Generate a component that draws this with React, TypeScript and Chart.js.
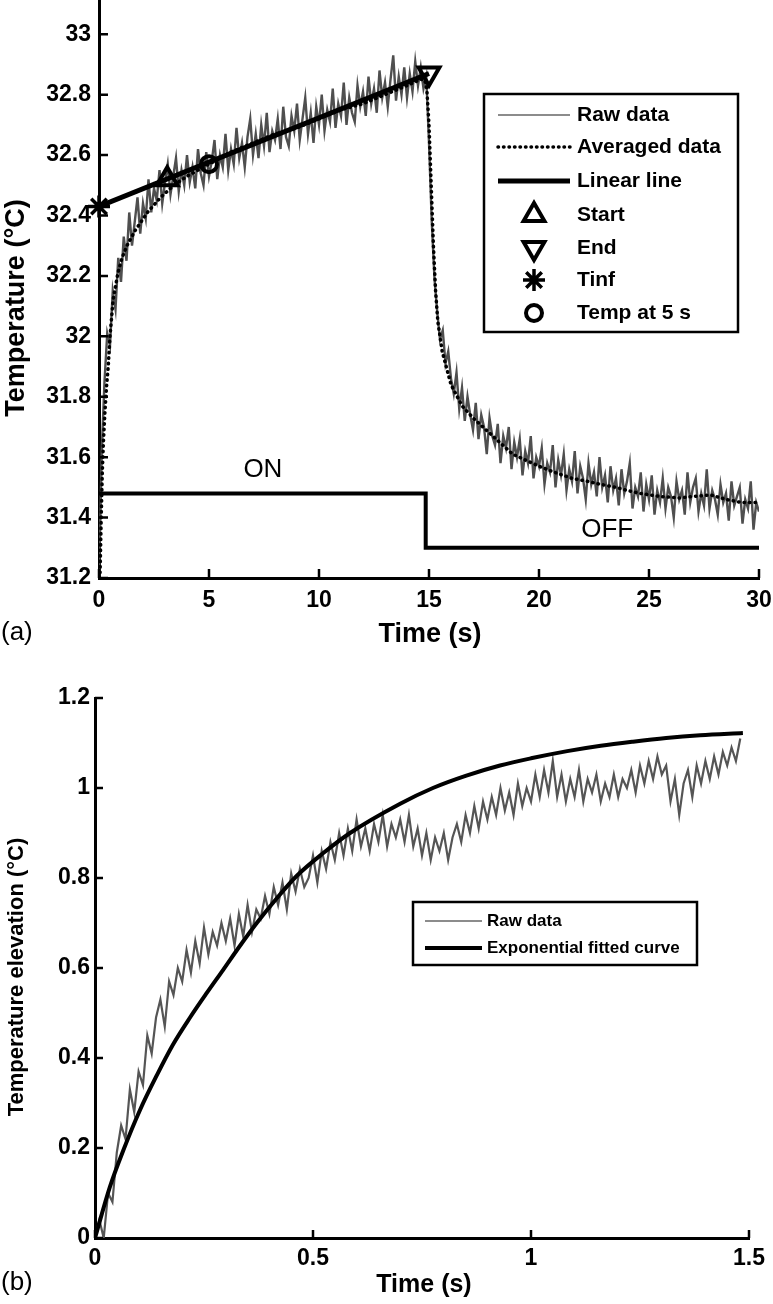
import React, { useEffect, useRef } from 'react';
import { Chart, registerables } from 'chart.js';

Chart.register(...registerables);

const FONT = '"Liberation Sans", Arial, Helvetica, sans-serif';
const W = 773;

// ---------------- Panel (a) data ----------------
const A_X_TICKS = [0, 5, 10, 15, 20, 25, 30];
const A_Y_TICKS = [31.2, 31.4, 31.6, 31.8, 32, 32.2, 32.4, 32.6, 32.8, 33];
const A_X_RANGE = [0, 30];
const A_Y_RANGE = [31.2, 33.11];
const A_RAW_STEP = 0.125; // seconds between raw samples
const A_RAW = [
  31.2, 31.62, 31.85, 32.01, 31.97, 32.15, 32.09, 32.26, 32.18, 32.33, 32.25, 32.41, 32.3,
  32.38, 32.46, 32.34, 32.44, 32.39, 32.52, 32.41, 32.49, 32.45, 32.55, 32.44, 32.51,
  32.57, 32.47, 32.53, 32.59, 32.48, 32.55, 32.5, 32.6,
  32.51, 32.56, 32.49, 32.62, 32.54, 32.5, 32.61, 32.53,
  32.58, 32.65, 32.52, 32.6, 32.56, 32.67, 32.55, 32.62,
  32.57, 32.69, 32.59, 32.64, 32.56, 32.66, 32.72, 32.6,
  32.67, 32.59, 32.7, 32.63, 32.74, 32.61, 32.68, 32.65,
  32.72, 32.62, 32.76, 32.66, 32.63, 32.73, 32.68, 32.77,
  32.65, 32.72, 32.79, 32.67, 32.74, 32.64, 32.76, 32.7,
  32.8, 32.68, 32.75, 32.71, 32.82, 32.69, 32.77, 32.73,
  32.84, 32.7, 32.79, 32.74, 32.71, 32.83, 32.76, 32.81,
  32.73, 32.86, 32.77, 32.82, 32.74, 32.88, 32.79, 32.84,
  32.76, 32.85, 32.93, 32.78, 32.86, 32.8, 32.89, 32.79,
  32.87, 32.81, 32.91, 32.83, 32.89, 32.82, 32.86, 32.64,
  32.38, 32.19, 32.08, 31.99, 32.02, 31.91, 31.95, 31.86,
  31.81, 31.88, 31.76, 31.83, 31.72, 31.8, 31.74, 31.69,
  31.78, 31.66, 31.74, 31.7, 31.61, 31.73, 31.67, 31.64,
  31.71, 31.58, 31.67, 31.63, 31.7, 31.56, 31.65, 31.6,
  31.66, 31.54, 31.62, 31.58, 31.67, 31.53, 31.6, 31.57,
  31.63, 31.51, 31.58, 31.55, 31.64, 31.5, 31.59, 31.54,
  31.61, 31.49, 31.56, 31.52, 31.62, 31.48, 31.57, 31.53,
  31.46, 31.58, 31.51, 31.55, 31.47, 31.6, 31.5, 31.54,
  31.45, 31.57, 31.49, 31.53, 31.44, 31.56, 31.48, 31.52,
  31.58, 31.43, 31.5, 31.47, 31.55, 31.42, 31.51, 31.46,
  31.54, 31.41, 31.49, 31.45, 31.53, 31.43, 31.5, 31.47,
  31.4, 31.52, 31.46, 31.49, 31.41, 31.55, 31.45, 31.5,
  31.53, 31.42, 31.48, 31.44, 31.56, 31.43, 31.49, 31.46,
  31.41, 31.51, 31.45, 31.48, 31.39, 31.52, 31.44, 31.47,
  31.5, 31.38, 31.46, 31.43, 31.52, 31.36, 31.45, 31.42,
];
const A_AVG_T = [
  0, 0.05, 0.1, 0.15, 0.2, 0.27, 0.35, 0.42, 0.5, 0.64, 0.86, 1.05, 1.27, 1.64, 2.2, 2.8, 3.4,
  4, 5, 6, 7, 8, 9, 10, 11, 12, 13, 14, 14.6, 14.8, 14.9, 15.0, 15.1, 15.2, 15.3, 15.4, 15.6,
  16.0, 16.5, 17.0, 17.6, 18.2, 18.8, 19.4, 20, 20.7, 21.5, 22.2, 22.8, 23.5, 24, 24.6, 25.5,
  26.4, 27, 27.8, 28.5, 29.2, 30,
];
const A_AVG_V = [
  31.2, 31.22, 31.4, 31.55, 31.65, 31.75, 31.84, 31.9, 32.0, 32.12, 32.21, 32.26, 32.3, 32.35,
  32.41, 32.46, 32.5, 32.53, 32.57, 32.61, 32.64, 32.67, 32.69, 32.72, 32.75, 32.77, 32.8,
  32.83, 32.85, 32.85, 32.82, 32.7, 32.5, 32.3, 32.15, 32.05, 31.95, 31.84, 31.77, 31.73,
  31.69, 31.65, 31.61, 31.59, 31.57, 31.55, 31.53, 31.52, 31.51, 31.5, 31.49, 31.48, 31.47,
  31.465, 31.47, 31.475, 31.46, 31.45, 31.45,
];
const A_LINEAR_T = [0, 15];
const A_LINEAR_V = [32.43, 32.87];
const A_STIM_T = [0, 14.85, 14.85, 30];
const A_STIM_V = [31.48, 31.48, 31.3, 31.3];
const A_STIM_TEXT = ['ON', 'OFF'];
const A_STIM_TEXT_T = [7.45, 23.1];
const A_STIM_TEXT_V = [31.558, 31.36];
const A_SERIES_LABELS = ['Raw data', 'Averaged data', 'Linear line'];
const A_MARK_LABELS = ['Start', 'End', 'Tinf', 'Temp at 5 s'];
const A_MARK_T = [3.1, 15, 0, 5];
const A_MARK_V = [32.52, 32.87, 32.43, 32.57];

// ---------------- Panel (b) data ----------------
const B_X_TICKS = [0, 0.5, 1, 1.5];
const B_Y_TICKS = [0, 0.2, 0.4, 0.6, 0.8, 1, 1.2];
const B_X_RANGE = [0, 1.5];
const B_Y_RANGE = [0, 1.2];
const B_RAW_STEP = 0.01;
const B_RAW = [
  0.0, 0.04, 0.0, 0.1, 0.08, 0.19, 0.25, 0.22, 0.33, 0.28,
  0.37, 0.34, 0.45, 0.41, 0.49, 0.53, 0.47, 0.57, 0.54, 0.6,
  0.57, 0.64, 0.59, 0.66, 0.61, 0.69, 0.63, 0.68, 0.65, 0.7,
  0.66, 0.71, 0.65, 0.72, 0.67, 0.74, 0.68, 0.73, 0.71, 0.76,
  0.72, 0.78, 0.74, 0.79, 0.73, 0.81, 0.77, 0.82, 0.78, 0.8,
  0.85, 0.79, 0.86, 0.82, 0.88, 0.84, 0.9, 0.85, 0.91, 0.86,
  0.93, 0.87, 0.91, 0.86, 0.92, 0.88, 0.94, 0.87, 0.92, 0.89,
  0.93, 0.88, 0.94, 0.87, 0.91, 0.85, 0.9, 0.84, 0.89, 0.86,
  0.9, 0.84, 0.89, 0.92, 0.88, 0.94, 0.9, 0.96, 0.91, 0.97,
  0.93, 0.98, 0.94, 1.0, 0.95, 0.99, 0.94, 1.01, 0.96, 1.0,
  0.97, 1.03, 0.98, 1.04, 0.99, 1.06, 0.98, 1.03, 0.97, 1.02,
  0.98, 1.04, 0.97, 1.02, 0.99, 1.03, 0.97, 1.01, 0.98, 1.03,
  0.98, 1.02, 1.0, 1.04, 0.99, 1.05, 1.01, 1.06, 1.02, 1.07,
  1.03, 1.05, 0.97, 1.02, 0.94, 1.01, 1.04, 0.98, 1.05, 1.01,
  1.06, 1.02, 1.07, 1.03, 1.08, 1.05, 1.09, 1.06, 1.11,
];
const B_FIT_T = [
  0, 0.034, 0.065, 0.103, 0.142, 0.179, 0.218, 0.256, 0.294, 0.333, 0.371, 0.417, 0.463, 0.523,
  0.585, 0.7, 0.775, 0.85, 0.929, 1.0, 1.083, 1.16, 1.234, 1.31, 1.388, 1.486,
];
const B_FIT_V = [
  0, 0.113, 0.195, 0.284, 0.362, 0.43, 0.49, 0.544, 0.596, 0.65, 0.7, 0.755, 0.805, 0.855, 0.9,
  0.965, 1.0, 1.027, 1.05, 1.066, 1.082, 1.094, 1.103, 1.111, 1.117, 1.122,
];
const B_SERIES_LABELS = ['Raw data', 'Exponential fitted curve'];

// ---------------- helpers ----------------
const pts = (t: number[], v: number[]) => v.map((y, i) => ({ x: t[i], y }));
const grid = (vals: number[], step: number) => vals.map((y, i) => ({ x: i * step, y }));
const fmt = (v: any) => String(+Number(v).toFixed(2));

function drawMarker(ctx: CanvasRenderingContext2D, kind: string, x: number, y: number, r: number, bw: number) {
  ctx.save();
  ctx.strokeStyle = '#000';
  ctx.lineWidth = bw;
  ctx.beginPath();
  if (kind === 'up' || kind === 'down') {
    const s = kind === 'up' ? 1 : -1;
    for (let k = 0; k < 3; k++) {
      const a = (k * 2 * Math.PI) / 3;
      const px = x + Math.sin(a) * r;
      const py = y - s * Math.cos(a) * r;
      if (k === 0) ctx.moveTo(px, py);
      else ctx.lineTo(px, py);
    }
    ctx.closePath();
  } else if (kind === 'star') {
    ctx.moveTo(x - r, y); ctx.lineTo(x + r, y);
    ctx.moveTo(x, y - r); ctx.lineTo(x, y + r);
    const d = r * Math.SQRT1_2;
    ctx.moveTo(x - d, y - d); ctx.lineTo(x + d, y + d);
    ctx.moveTo(x - d, y + d); ctx.lineTo(x + d, y - d);
  } else if (kind === 'circle') {
    ctx.arc(x, y, r, 0, Math.PI * 2);
  }
  ctx.stroke();
  ctx.restore();
}

function decoPlugin(deco: any) {
  return {
    id: 'deco',
    afterDraw(chart: any) {
      const ctx: CanvasRenderingContext2D = chart.ctx;
      const xs = chart.scales.x;
      const ys = chart.scales.y;
      ctx.save();
      // inward ticks
      ctx.strokeStyle = '#000';
      ctx.lineWidth = 2.5;
      ctx.beginPath();
      xs.ticks.forEach((t: any) => {
        const px = xs.getPixelForValue(t.value);
        ctx.moveTo(px, xs.top);
        ctx.lineTo(px, xs.top - deco.tickLen);
      });
      ys.ticks.forEach((t: any) => {
        const py = ys.getPixelForValue(t.value);
        ctx.moveTo(ys.right, py);
        ctx.lineTo(ys.right + deco.tickLen, py);
      });
      ctx.stroke();

      ctx.fillStyle = '#000';
      ctx.textBaseline = 'middle';
      ctx.font = deco.xTitle.font;
      ctx.textAlign = 'center';
      ctx.fillText(deco.xTitle.text, deco.xTitle.x, deco.xTitle.y);
      ctx.save();
      ctx.translate(deco.yTitle.x, deco.yTitle.y);
      ctx.rotate(-Math.PI / 2);
      ctx.font = deco.yTitle.font;
      ctx.fillText(deco.yTitle.text, 0, 0);
      ctx.restore();
      ctx.font = deco.panel.font;
      ctx.textAlign = 'left';
      ctx.fillText(deco.panel.text, deco.panel.x, deco.panel.y);
      if (deco.notes) {
        ctx.font = deco.notes.font;
        ctx.textAlign = 'center';
        deco.notes.text.forEach((s: string, i: number) => {
          ctx.fillText(s, xs.getPixelForValue(deco.notes.t[i]), ys.getPixelForValue(deco.notes.v[i]));
        });
      }
      const L = deco.legend;
      ctx.fillStyle = '#fff';
      ctx.fillRect(L.box[0], L.box[1], L.box[2] - L.box[0], L.box[3] - L.box[1]);
      ctx.strokeStyle = '#000';
      ctx.lineWidth = 2.5;
      ctx.strokeRect(L.box[0], L.box[1], L.box[2] - L.box[0], L.box[3] - L.box[1]);
      const cx = (L.sample[0] + L.sample[1]) / 2;
      L.rows.forEach((row: any) => {
        const y = row.y;
        ctx.save();
        if (row.kind === 'raw' || row.kind === 'avg' || row.kind === 'linear' || row.kind === 'fit') {
          ctx.beginPath();
          ctx.moveTo(L.sample[0], y);
          ctx.lineTo(L.sample[1], y);
          if (row.kind === 'raw') {
            ctx.strokeStyle = '#8c8c8c';
            ctx.lineWidth = 2;
          } else if (row.kind === 'avg') {
            ctx.strokeStyle = '#000';
            ctx.lineWidth = 3.5;
            ctx.lineCap = 'round';
            ctx.setLineDash([0.5, 5]);
          } else {
            ctx.strokeStyle = '#000';
            ctx.lineWidth = row.kind === 'linear' ? 5 : 4;
          }
          ctx.stroke();
        } else {
          const st = row.style;
          drawMarker(ctx, row.kind, cx, y, st.radius, st.bw);
        }
        ctx.restore();
        ctx.fillStyle = '#000';
        ctx.font = L.font;
        ctx.textAlign = 'left';
        ctx.fillText(row.label, L.textX, y);
      });
      ctx.restore();
    },
  };
}

function scaleOpts(range: number[], ticks: number[], size: number, pad: number, fit: (s: any) => void) {
  return {
    type: 'linear',
    min: range[0],
    max: range[1],
    afterBuildTicks: (s: any) => {
      s.ticks = ticks.map((value) => ({ value }));
    },
    afterFit: (s: any) => {
      fit(s);
      s.paddingTop = 0;
      s.paddingBottom = 0;
      s.paddingLeft = 0;
      s.paddingRight = 0;
    },
    grid: { display: false, drawTicks: false },
    border: { display: true, color: '#000', width: 3 },
    ticks: {
      padding: pad,
      color: '#000',
      font: { family: FONT, size, weight: 'bold' },
      callback: fmt,
      maxRotation: 0,
      autoSkip: false,
    },
  };
}

const MARK_STYLES = [
  { kind: 'up', pointStyle: 'triangle', rotation: 0, radius: 12, bw: 4 },
  { kind: 'down', pointStyle: 'triangle', rotation: 180, radius: 12, bw: 4 },
  { kind: 'star', pointStyle: 'star', rotation: 0, radius: 11, bw: 3.5 },
  { kind: 'circle', pointStyle: 'circle', rotation: 0, radius: 8, bw: 4 },
];

function buildA(): any {
  const markerSets = A_MARK_LABELS.map((label, i) => ({
    label,
    data: [{ x: A_MARK_T[i], y: A_MARK_V[i] }],
    showLine: false,
    pointStyle: MARK_STYLES[i].pointStyle,
    pointRotation: MARK_STYLES[i].rotation,
    pointRadius: MARK_STYLES[i].radius,
    pointBorderWidth: MARK_STYLES[i].bw,
    pointBorderColor: '#000',
    pointBackgroundColor: 'rgba(0,0,0,0)',
    clip: false,
    order: 0,
  }));
  const datasets = [
    ...markerSets,
    {
      label: A_SERIES_LABELS[2],
      data: pts(A_LINEAR_T, A_LINEAR_V),
      borderColor: '#000',
      borderWidth: 5,
      pointRadius: 0,
      order: 1,
    },
    {
      label: A_SERIES_LABELS[1],
      data: pts(A_AVG_T, A_AVG_V),
      borderColor: '#000',
      borderWidth: 3.5,
      borderDash: [0.5, 5],
      borderCapStyle: 'round',
      pointRadius: 0,
      order: 2,
    },
    {
      label: 'Stimulus',
      data: pts(A_STIM_T, A_STIM_V),
      borderColor: '#000',
      borderWidth: 4,
      pointRadius: 0,
      order: 3,
    },
    {
      label: A_SERIES_LABELS[0],
      data: grid(A_RAW, A_RAW_STEP),
      borderColor: '#4f4f4f',
      borderWidth: 2.4,
      pointRadius: 0,
      order: 4,
    },
  ];
  const legendRows = [
    { y: 115, label: A_SERIES_LABELS[0], kind: 'raw' },
    { y: 147, label: A_SERIES_LABELS[1], kind: 'avg' },
    { y: 181, label: A_SERIES_LABELS[2], kind: 'linear' },
    ...A_MARK_LABELS.map((label, i) => ({ y: [215, 248, 280, 313][i], label, kind: MARK_STYLES[i].kind, style: MARK_STYLES[i] })),
  ];
  return {
    type: 'line',
    data: { datasets },
    options: {
      responsive: false,
      animation: false,
      devicePixelRatio: 1,
      events: [],
      layout: { autoPadding: false, padding: { left: 0, right: 14, top: 1, bottom: 0 } },
      plugins: { legend: { display: false }, tooltip: { enabled: false } },
      scales: {
        x: scaleOpts(A_X_RANGE, A_X_TICKS, 23, 9, (s) => { s.height = 82; }),
        y: scaleOpts(A_Y_RANGE, A_Y_TICKS, 23, 8, (s) => { s.width = 99; }),
      },
    },
    plugins: [
      decoPlugin({
        tickLen: 9,
        xTitle: { text: 'Time (s)', x: 430, y: 635, font: `bold 27px ${FONT}` },
        yTitle: { text: 'Temperature (°C)', x: 17, y: 308, font: `bold 27px ${FONT}` },
        panel: { text: '(a)', x: 1, y: 633, font: `26px ${FONT}` },
        notes: { text: A_STIM_TEXT, t: A_STIM_TEXT_T, v: A_STIM_TEXT_V, font: `26px ${FONT}` },
        legend: {
          box: [484, 94, 738, 332],
          sample: [498, 570],
          textX: 577,
          font: `bold 21px ${FONT}`,
          rows: legendRows,
        },
      }),
    ],
  };
}

function buildB(): any {
  const datasets = [
    {
      label: B_SERIES_LABELS[1],
      data: pts(B_FIT_T, B_FIT_V),
      borderColor: '#000',
      borderWidth: 4,
      pointRadius: 0,
      cubicInterpolationMode: 'monotone',
      order: 0,
    },
    {
      label: B_SERIES_LABELS[0],
      data: grid(B_RAW, B_RAW_STEP),
      borderColor: '#555555',
      borderWidth: 2.2,
      pointRadius: 0,
      order: 1,
    },
  ];
  return {
    type: 'line',
    data: { datasets },
    options: {
      responsive: false,
      animation: false,
      devicePixelRatio: 1,
      events: [],
      layout: { autoPadding: false, padding: { left: 0, right: 24, top: 38, bottom: 0 } },
      plugins: { legend: { display: false }, tooltip: { enabled: false } },
      scales: {
        x: scaleOpts(B_X_RANGE, B_X_TICKS, 23, 7, (s) => { s.height = 66; }),
        y: scaleOpts(B_Y_RANGE, B_Y_TICKS, 23, 5, (s) => { s.width = 95; }),
      },
    },
    plugins: [
      decoPlugin({
        tickLen: 8,
        xTitle: { text: 'Time (s)', x: 424, y: 625, font: `bold 25px ${FONT}` },
        yTitle: { text: 'Temperature elevation (°C)', x: 17, y: 317, font: `bold 22px ${FONT}` },
        panel: { text: '(b)', x: 1, y: 623, font: `26px ${FONT}` },
        legend: {
          box: [413, 242, 697, 305],
          sample: [425, 482],
          textX: 487,
          font: `bold 17px ${FONT}`,
          rows: [
            { y: 261, label: B_SERIES_LABELS[0], kind: 'raw' },
            { y: 288, label: B_SERIES_LABELS[1], kind: 'fit' },
          ],
        },
      }),
    ],
  };
}

function ChartCanvas({ build, top, height }: { build: () => any; top: number; height: number }) {
  const ref = useRef<HTMLCanvasElement>(null);
  useEffect(() => {
    const chart = new Chart(ref.current as HTMLCanvasElement, build());
    return () => chart.destroy();
  }, []);
  return (
    <canvas
      ref={ref}
      width={W}
      height={height}
      style={{ position: 'absolute', left: 0, top, width: W, height, display: 'block' }}
    />
  );
}

export default function App() {
  return (
    <div style={{ position: 'absolute', left: 0, top: 0, width: W, height: 1304, background: '#fff', overflow: 'hidden' }}>
      <ChartCanvas build={buildA} top={0} height={660} />
      <ChartCanvas build={buildB} top={660} height={644} />
    </div>
  );
}
